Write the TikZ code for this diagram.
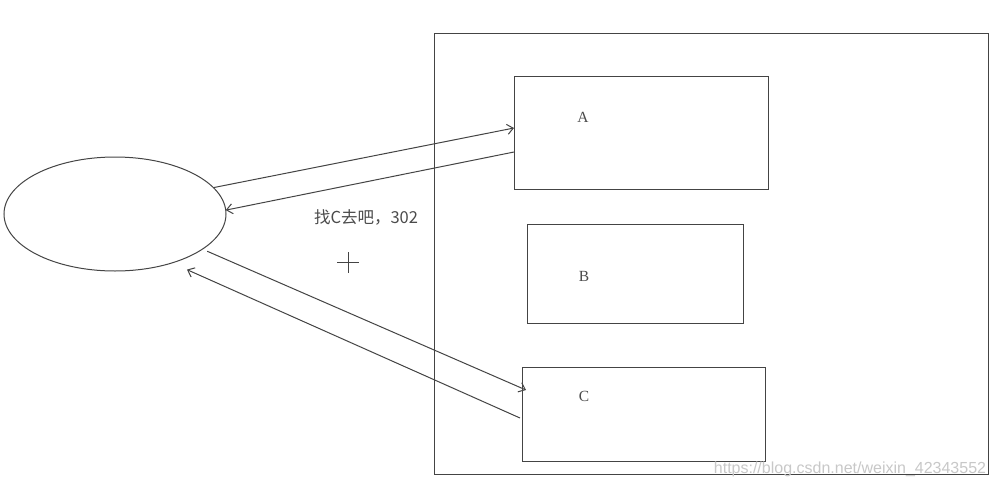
\documentclass[tikz,border=0pt]{standalone}
\usepackage{fontspec}
\setmainfont{Liberation Serif}
\newfontfamily\cjk{Noto Sans CJK SC}
\newfontfamily\wmfont{Liberation Sans}
\usepackage{tikz}
\usetikzlibrary{arrows.meta,positioning,shapes.geometric,calc}
\definecolor{linegray}{RGB}{68,68,68}
\definecolor{textgray}{RGB}{75,75,75}
\definecolor{markgray}{RGB}{200,200,200}

\begin{document}
\begin{tikzpicture}[x=1pt,y=-1pt,
    every node/.style={inner sep=0pt,outer sep=0pt},
    thinline/.style={draw=linegray,line width=1pt},
    box/.style={thinline,rectangle},
    msg/.style={linegray,line width=1pt,-{Straight Barb[length=6pt,width=10pt]}},
    boxlabel/.style={text=textgray,font=\fontsize{15.5}{18}\selectfont}]
    \useasboundingbox[fill=white] (0,0) rectangle (994,488);

    % Client
    \node[thinline,ellipse,minimum width=222pt,minimum height=114pt] (client) at (115,214) {};

    % Server frame and its three parts
    \node[box,minimum width=554pt,minimum height=441pt] (frame) at (711,253.5) {};
    \node[box,minimum width=254pt,minimum height=113pt] (A) at (641,132.5) {};
    \node[box,minimum width=216pt,minimum height=99pt] (B) at (635,273.5) {};
    \node[box,minimum width=243pt,minimum height=94pt] (C) at (643.5,414) {};

    \node[boxlabel] (labA) at (583,117) {A};
    \node[boxlabel] (labB) at (584,276) {B};
    \node[boxlabel] (labC) at (584,396) {C};

    % Requests and replies
    \draw[msg] (client.15) -- ([yshift=4.5pt]A.west);
    \draw[msg] ([yshift=-19.5pt]A.west) -- (client.2);
    \draw[msg] ([shift={(5pt,-2pt)}]client.-22) -- ([yshift=24pt,xshift=4pt]C.west);
    \draw[msg] ([yshift=-4pt,xshift=-2pt]C.west) -- ([shift={(11pt,-8pt)}]client.-38);

    % Reply text
    \node[text=textgray,font=\cjk\fontsize{16.5}{18}\selectfont] (redirect) at (366,217) {找C去吧，302};

    % Cursor
    \draw[linegray,line width=0.8pt] (337,262) -- (359,262);
    \draw[linegray,line width=0.8pt] (348,252) -- (348,273);

    % Watermark
    \node[text=markgray,font=\wmfont\fontsize{16}{18}\selectfont] (mark) at (850,469) {https://blog.csdn.net/weixin\_42343552};
\end{tikzpicture}
\end{document}
